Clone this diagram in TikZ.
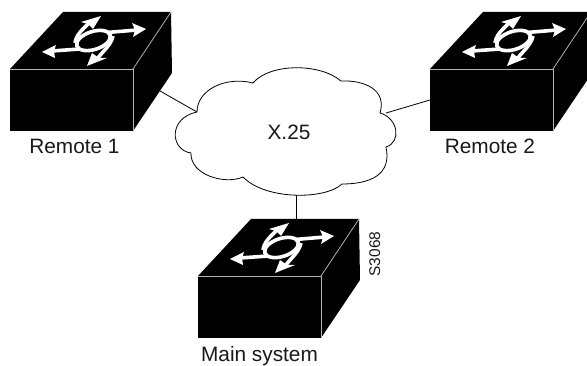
\documentclass[tikz,border=0pt]{standalone}
\usepackage{fontspec}
\setmainfont{Liberation Sans}
\tikzset{
  x=1pt,y=-1pt,
  lbl/.style={font=\fontsize{20.8}{22}\selectfont,inner sep=0pt,text=black!90},
  wire/.style={draw=black,line width=0.8pt},
  edgeline/.style={draw=black!30,line width=0.8pt},
  iconline/.style={draw=white,line width=3.6pt},
  iconhead/.style={fill=white,draw=none},
  switchbox/.pic={
    \fill[black] (10,69) -- (63,12) -- (171,12) -- (172,73) -- (133,131) -- (10,131) -- cycle;
    \draw[edgeline] (10,69) -- (133,69) -- (133,131);
    \draw[edgeline] (133,69) -- (171,12);
    % ring
    \draw[iconline] (93.5,40.5) ellipse [x radius=17.5pt,y radius=9pt,rotate=18];
    % arrow shafts
    \draw[iconline] (52,51) -- (80,49);
    \draw[iconline] (107,32.5) -- (137,30);
    \draw[iconline] (75,43) .. controls (76,35) and (82,30) .. (89,23);
    \draw[iconline] (113,36) .. controls (111,45) and (104,50) .. (97,59);
    % arrow heads
    \fill[iconhead] (42,52) -- (56,45) -- (54,51) -- (55,58) -- cycle;
    \fill[iconhead] (146,29) -- (132,23) -- (135,30) -- (133,37) -- cycle;
    \fill[iconhead] (101,16) -- (81,22) -- (88,24) -- (93,29) -- cycle;
    \fill[iconhead] (87,66) -- (107,58) -- (99,58) -- (92,53) -- cycle;
  }
}
\begin{document}
\begin{tikzpicture}
\useasboundingbox (0,0) rectangle (587,366);
\clip (0,0) rectangle (587,366);
% cloud
\coordinate (cA) at (197,112);
\coordinate (cB) at (253,83);
\coordinate (cC) at (341,81);
\coordinate (cD) at (380,113);
\coordinate (cE) at (386,147);
\coordinate (cF) at (342,184);
\coordinate (cG) at (243,177);
\coordinate (cH) at (191,153);
\coordinate (cBot) at (296,195);
\coordinate (cR) at (386,113);
\coordinate (swA) at (160,91);
\coordinate (swB) at (430,100);
\coordinate (swC) at (296,219);
\draw[wire] (swA) -- (cA);
\draw[wire] (swB) -- (cR);
\draw[wire] (swC) -- (cBot);
\draw[black,line width=0.8pt,fill=white]
  (cA) .. controls (197,90) and (225,76) .. (cB)
  .. controls (270,63) and (320,63) .. (cC)
  .. controls (365,80) and (387,90) .. (cD)
  .. controls (398,118) and (402,142) .. (cE)
  .. controls (392,175) and (370,184) .. (cF)
  .. controls (325,200) and (265,200) .. (cG)
  .. controls (225,185) and (190,175) .. (cH)
  .. controls (170,150) and (168,118) .. (cA) -- cycle;
% switches
\pic at (0,0) {switchbox};
\pic at (420,0) {switchbox};
\pic at (188,207) {switchbox};
% labels
\node[lbl,anchor=base] (xnet) at (289,140) {X.25};
\node[lbl,anchor=base] (r1) at (74.5,154) {Remote 1};
\node[lbl,anchor=base] (r2) at (490,154) {Remote 2};
\node[lbl,anchor=base] (ms) at (259.5,362) {Main system};
\node[lbl,font=\fontsize{15.5}{17}\selectfont,anchor=base,rotate=90] (code) at (380,254) {S3068};
\end{tikzpicture}
\end{document}
